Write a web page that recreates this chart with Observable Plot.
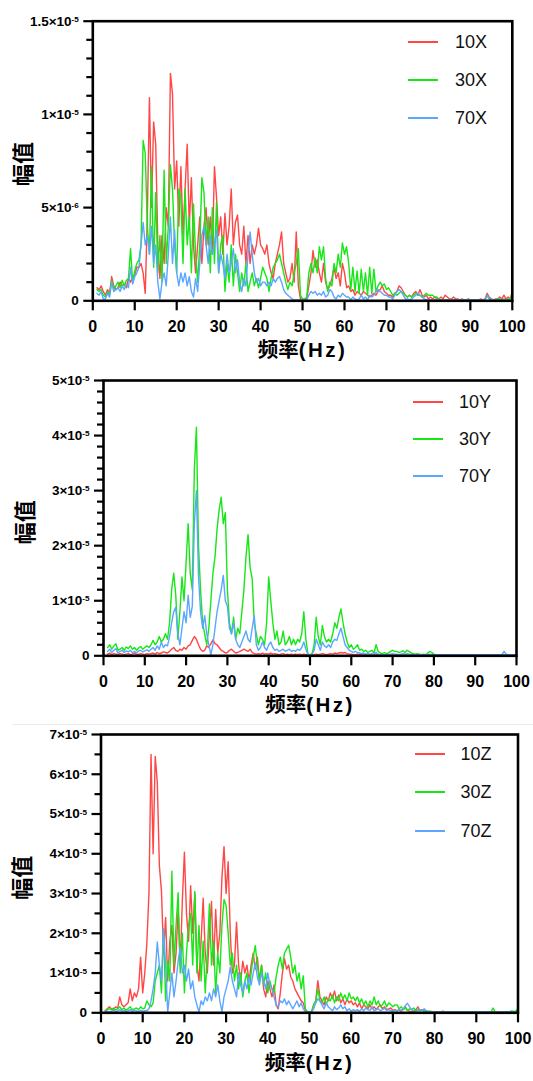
<!DOCTYPE html>
<html><head><meta charset="utf-8">
<script src="https://cdn.jsdelivr.net/npm/d3@7"></script>
<script src="https://cdn.jsdelivr.net/npm/@observablehq/plot@0.6"></script>
<style>
body{margin:0;background:#fff;}
#wrap{position:relative;width:533px;height:1081px;overflow:hidden;background:#fff;font-family:"Liberation Sans",Arial,sans-serif;}
.panel{position:absolute;left:0;}
.lg-line{position:absolute;height:2px;width:30px;}
.lg-text{position:absolute;font-size:18px;line-height:22px;color:#111;white-space:nowrap;}
.sep{position:absolute;left:12px;right:0;top:724px;height:1px;background:#ebebeb;}
</style></head>
<body><div id="wrap"></div>
<script>
// ---------- DATA (amplitudes in units of 1e-6, sampled every 0.5 Hz from 1 Hz to 100 Hz) ----------
const freqStart = 1, freqStep = 0.5, nPoints = 199;

const x10 = [
0.7,0.6,0.8,0.5,0.3,0.6,0.4,1.3,0.8,0.6,0.7,1.0,0.8,0.9,0.7,1.2,1.0,1.3,1.4,1.8,
1.8,2.0,1.5,0.4,4.5,10.9,5.0,9.6,8.4,3.0,1.2,3.5,2.0,5.0,4.0,12.2,11.1,6.0,7.5,4.0,
7.2,3.5,6.0,8.4,4.0,6.6,3.0,1.5,3.0,4.5,2.0,4.0,5.0,3.0,4.5,2.5,7.2,5.5,3.5,4.5,
2.5,4.7,3.0,4.0,6.0,3.0,4.2,4.6,3.0,2.5,4.0,2.0,3.5,2.0,3.0,2.5,3.0,3.9,3.0,2.8,
2.5,3.0,2.0,1.5,1.2,2.0,2.5,3.0,3.7,2.0,1.5,1.0,1.2,2.0,1.0,3.7,0.8,0.1,0.05,0.1,
0.1,0.8,1.5,2.7,1.8,2.2,1.5,1.0,2.0,1.0,0.6,0.8,1.2,1.8,1.2,1.5,0.8,2.0,1.5,0.7,
0.8,0.5,0.6,0.3,0.5,0.4,0.3,0.5,0.4,0.3,0.2,0.3,0.4,0.3,0.5,0.6,0.8,0.5,0.4,0.3,
0.3,0.2,0.4,0.5,0.8,0.7,0.5,0.3,0.2,0.3,0.2,0.4,0.5,0.3,0.6,0.3,0.2,0.3,0.1,0.2,
0.1,0.2,0.1,0.1,0.2,0.1,0.3,0.2,0.1,0.1,0.2,0.1,0.1,0.05,0.1,0.05,0.05,0.1,0.05,0.05,
0.05,0.05,0.05,0.1,0.05,0.1,0.4,0.2,0.1,0.05,0.1,0.1,0.2,0.1,0.3,0.1,0.2,0.1,0.5];
const x30 = [
0.6,0.5,0.6,0.3,0.2,0.5,0.3,1.1,0.6,0.8,1.0,0.7,1.1,0.8,1.1,1.2,2.8,1.0,1.6,2.0,
2.2,3.0,8.6,7.9,4.0,2.5,7.2,1.8,5.8,1.5,3.5,1.0,7.0,2.0,4.0,7.3,6.0,3.0,1.5,6.0,
5.5,2.0,6.0,3.0,4.5,1.5,5.2,2.5,1.0,3.0,6.6,5.8,3.0,4.5,1.5,5.0,2.0,5.3,1.5,3.0,
3.5,0.5,2.0,1.0,3.0,0.8,2.5,1.5,0.5,1.5,0.8,2.0,0.5,1.0,1.5,0.8,1.2,0.7,1.2,1.8,
1.5,1.2,0.5,1.2,1.8,2.0,2.2,2.5,2.0,1.5,1.0,0.6,1.0,0.8,1.5,2.0,2.8,0.3,0.1,0.1,
0.2,1.5,2.0,1.5,2.3,1.5,2.9,2.2,2.9,1.2,0.5,1.0,0.8,2.0,1.5,2.5,1.8,3.1,2.5,2.9,
2.0,0.6,1.8,0.5,1.6,0.4,1.7,0.5,1.5,0.3,1.8,0.4,1.7,0.5,0.8,1.0,0.8,0.9,0.6,0.7,
0.5,0.3,0.4,0.3,0.4,0.5,0.4,0.3,0.2,0.3,0.2,0.3,0.4,0.3,0.3,0.2,0.3,0.4,0.3,0.3,
0.3,0.2,0.2,0.1,0.05,0.05,0.05,0.05,0.05,0.05,0.05,0.05,0.05,0.05,0.05,0.05,0.05,0.05,0.05,0.05,
0.05,0.05,0.05,0.05,0.05,0.05,0.3,0.1,0.05,0.05,0.05,0.1,0.1,0.05,0.1,0.05,0.1,0.1,0.3];
const x70 = [
0.4,0.3,0.5,0.1,0.1,0.4,0.2,1.0,0.5,0.6,0.7,0.5,0.8,0.6,0.9,0.7,1.8,0.9,1.3,1.5,
1.8,3.0,4.2,3.0,3.5,2.5,4.0,2.0,3.0,1.0,0.1,1.0,1.5,0.8,2.5,4.5,2.0,3.8,1.5,0.8,
1.5,1.0,1.5,0.8,1.3,0.5,0.2,1.2,0.5,2.0,3.5,4.0,3.0,2.0,3.5,2.5,3.0,3.8,1.5,2.5,
2.0,1.2,2.5,1.5,2.0,2.8,1.5,2.2,1.0,0.5,1.2,0.8,2.5,3.7,2.5,1.5,1.0,1.2,0.8,1.0,
1.0,0.8,1.0,0.8,1.2,1.0,1.2,1.3,1.0,0.6,0.4,0.3,0.2,0.1,0.05,0.05,0.05,0.05,0.05,0.05,
0.05,0.3,0.5,0.4,0.5,0.3,0.4,0.3,0.5,0.2,0.3,0.6,0.5,0.2,0.1,0.3,0.2,0.4,0.3,0.2,
0.2,0.05,0.2,0.1,0.05,0.1,0.3,0.1,0.2,0.05,0.3,0.2,0.3,0.5,0.6,0.5,0.4,0.3,0.3,0.2,
0.2,0.1,0.3,0.5,0.6,0.5,0.3,0.1,0.1,0.05,0.1,0.2,0.3,0.4,0.3,0.2,0.1,0.05,0.05,0.05,
0.05,0.05,0.05,0.05,0.05,0.05,0.05,0.05,0.05,0.05,0.05,0.05,0.05,0.05,0.05,0.05,0.05,0.05,0.05,0.05,
0.05,0.05,0.05,0.05,0.05,0.05,0.3,0.1,0.05,0.05,0.05,0.05,0.05,0.05,0.05,0.05,0.05,0.05,0.05];

const y10 = [
0.3,0.5,0.2,0.4,0.3,0.2,0.4,0.3,0.2,0.3,0.4,0.2,0.3,0.5,0.2,0.3,0.4,0.3,0.2,0.4,
0.3,0.4,0.5,0.3,0.6,0.4,0.5,0.7,0.6,0.5,0.8,1.2,1.5,1.0,0.8,1.2,1.0,1.5,1.2,1.8,
2.0,2.8,3.5,3.0,2.0,1.2,0.8,1.0,1.8,1.5,2.2,2.9,2.2,2.0,1.5,1.0,0.8,0.5,0.6,1.0,
1.2,0.8,0.5,0.6,0.8,1.0,1.2,1.0,0.8,1.2,0.6,0.4,0.3,0.4,0.3,0.5,0.3,0.4,0.3,0.5,
0.3,0.4,0.3,0.2,0.3,0.4,0.2,0.3,0.2,0.3,0.2,0.3,0.2,0.3,0.2,0.3,0.2,0.1,0.1,0.1,
0.2,0.3,0.2,0.3,0.4,0.3,0.2,0.3,0.4,0.3,0.5,0.4,0.5,0.6,0.5,0.6,0.4,0.3,0.3,0.2,
0.2,0.3,0.2,0.2,0.1,0.2,0.1,0.2,0.1,0.1,0.2,0.1,0.1,0.2,0.1,0.1,0.1,0.1,0.1,0.1,
0.1,0.1,0.1,0.1,0.1,0.1,0.1,0.1,0.1,0.1,0.1,0.1,0.1,0.1,0.1,0.1,0.1,0.1,0.1,0.1,
0.1,0.1,0.1,0.1,0.1,0.1,0.1,0.1,0.1,0.1,0.1,0.1,0.1,0.1,0.1,0.1,0.1,0.1,0.1,0.1,
0.1,0.1,0.1,0.1,0.1,0.1,0.1,0.1,0.1,0.1,0.1,0.1,0.1,0.1,0.1,0.1,0.1,0.1,0.1];
const y30 = [
1.5,2.0,1.2,1.8,2.2,1.0,1.2,1.5,1.0,1.6,1.3,1.8,1.2,1.5,1.0,1.4,1.7,1.2,1.5,1.8,
1.5,2.0,2.8,2.0,2.5,3.5,2.5,3.0,4.0,3.0,6.0,12.0,15.0,11.0,3.0,8.0,14.3,10.0,17.0,24.0,
15.0,12.0,34.0,41.5,20.0,12.0,6.0,4.0,2.0,5.0,10.0,15.0,18.0,23.0,26.5,28.8,24.0,26.0,12.0,6.0,
4.0,7.0,3.0,5.0,4.0,8.0,12.0,18.0,22.0,16.0,14.0,6.0,4.0,2.0,3.5,3.0,2.0,6.0,14.3,10.0,
6.0,3.0,4.5,2.0,2.5,4.5,2.0,2.5,3.5,2.0,3.0,2.0,3.0,2.5,4.0,8.0,3.0,0.3,0.2,0.4,
2.0,7.0,3.5,2.0,5.5,3.5,2.5,3.0,2.5,4.0,6.0,5.0,7.0,8.5,6.0,4.0,2.5,1.5,2.0,1.2,
1.5,2.0,1.0,1.2,0.8,1.0,0.6,0.8,1.0,0.5,2.0,0.8,0.5,0.4,0.6,0.4,0.5,0.8,1.0,0.8,
0.8,0.6,0.7,0.9,0.6,1.0,0.8,0.5,0.4,0.3,0.4,0.3,0.2,0.3,0.2,0.5,0.8,0.6,0.3,0.2,
0.2,0.1,0.1,0.1,0.1,0.1,0.1,0.1,0.1,0.1,0.1,0.1,0.1,0.1,0.1,0.1,0.1,0.1,0.1,0.1,
0.1,0.1,0.1,0.1,0.1,0.1,0.1,0.1,0.1,0.1,0.1,0.1,0.1,0.1,0.1,0.1,0.1,0.1,0.1];
const y70 = [
0.8,1.2,0.6,1.0,1.3,0.5,0.8,1.0,0.6,0.9,0.7,1.0,0.6,0.8,0.5,0.9,1.0,0.7,0.9,1.1,
0.8,1.2,1.5,1.0,1.8,1.2,2.5,1.5,2.0,1.8,3.5,6.0,8.0,8.8,4.0,2.0,5.0,8.0,6.0,11.0,
7.0,9.0,24.0,30.0,14.5,8.0,5.0,7.3,4.0,2.0,0.2,2.0,5.0,8.0,10.0,12.0,14.6,10.0,9.0,5.0,
4.0,6.0,3.0,2.0,1.5,2.5,3.5,4.5,3.0,2.5,5.0,7.3,2.0,1.0,1.5,2.5,1.5,1.0,2.0,2.5,
1.5,1.0,1.2,0.8,1.0,1.2,0.8,1.0,1.2,0.8,1.0,0.8,1.2,1.0,1.5,2.5,1.2,0.2,0.1,0.3,
1.0,3.0,2.0,1.0,2.5,1.8,1.5,2.0,1.5,2.5,3.0,2.8,4.0,5.0,3.5,2.0,1.5,1.0,0.8,0.6,
0.8,0.6,0.5,0.4,0.5,0.3,0.4,0.3,0.4,0.3,0.6,0.3,0.2,0.2,0.3,0.2,0.2,0.3,0.4,0.3,
0.3,0.2,0.3,0.4,0.3,0.4,0.3,0.2,0.2,0.2,0.2,0.2,0.2,0.2,0.2,0.2,0.3,0.2,0.2,0.2,
0.2,0.2,0.2,0.2,0.2,0.2,0.2,0.2,0.2,0.2,0.2,0.2,0.2,0.2,0.2,0.2,0.2,0.2,0.2,0.2,
0.2,0.2,0.2,0.2,0.2,0.2,0.2,0.2,0.2,0.2,0.2,0.2,0.8,0.3,0.2,0.2,0.2,0.2,0.2];

const z10 = [
0.5,1.0,1.5,1.0,0.8,1.5,1.2,4.0,2.0,1.5,2.0,2.5,6.0,3.0,5.0,4.0,6.0,14.0,5.0,10.0,
17.6,30.0,65.0,40.0,64.5,58.0,37.0,30.6,15.0,24.0,8.0,18.0,22.0,10.0,15.0,26.0,12.0,28.0,40.4,25.0,
18.0,32.0,20.0,30.0,12.0,8.0,18.0,28.8,15.0,10.0,20.0,28.0,12.0,26.0,15.0,20.0,34.0,41.8,30.0,38.0,
20.0,10.0,12.0,22.8,12.0,8.0,13.0,10.0,12.0,8.0,12.0,15.0,11.0,14.0,8.0,12.0,6.0,4.0,8.0,6.0,
4.0,7.0,2.0,1.0,5.0,10.0,13.6,11.0,12.0,9.0,8.0,6.0,5.0,4.0,3.0,2.5,0.5,0.2,0.2,0.3,
2.0,3.0,8.1,4.0,3.0,2.0,4.0,3.0,5.0,3.5,5.5,3.0,4.5,2.5,3.5,2.0,3.5,2.5,3.0,2.0,
2.5,1.5,2.5,1.0,2.0,1.5,1.0,2.0,1.0,1.5,0.8,1.5,2.0,1.0,1.5,0.8,1.0,1.2,0.6,0.8,
0.5,0.8,0.4,1.0,1.5,0.6,0.4,0.3,0.5,0.8,1.5,0.5,0.8,0.4,0.3,0.4,0.3,0.2,0.3,0.2,
0.3,0.2,0.4,0.2,0.3,0.2,0.2,0.3,0.2,0.2,0.2,0.3,0.2,0.2,0.2,0.2,0.2,0.2,0.2,0.2,
0.2,0.2,0.2,0.2,0.2,0.2,0.3,0.2,0.2,0.2,0.2,0.2,0.2,0.2,0.2,0.3,0.2,0.3,0.4];
const z30 = [
0.5,0.8,1.0,0.8,1.2,0.7,1.0,1.5,0.8,1.2,0.6,1.0,1.5,0.8,1.0,1.2,0.8,1.5,1.0,1.2,
3.0,2.0,1.5,2.5,8.0,10.0,12.0,5.0,21.0,3.0,13.0,8.0,35.6,12.0,22.0,30.2,10.0,20.0,5.0,15.0,
22.0,25.0,12.0,30.5,10.0,22.0,8.0,18.0,5.0,15.0,27.4,12.0,18.0,5.0,15.0,10.0,22.0,28.5,27.0,20.0,
12.0,15.0,8.0,12.0,6.0,10.0,4.0,8.0,10.0,5.0,10.0,14.0,16.9,12.0,8.0,12.0,7.0,10.0,5.0,8.0,
6.0,5.0,9.0,12.0,14.0,11.0,15.0,16.0,17.0,14.0,10.0,12.0,8.0,10.0,6.0,9.3,1.0,0.3,0.2,0.3,
2.0,3.0,6.0,3.0,2.5,4.0,2.0,3.5,3.0,4.5,2.5,4.0,3.0,5.0,3.5,4.5,3.0,5.0,3.5,4.0,
3.0,4.0,2.5,3.5,2.0,3.0,1.5,3.0,2.0,4.0,2.0,3.0,1.5,2.0,3.0,1.5,2.5,2.0,1.5,2.0,
2.0,1.0,1.5,0.8,1.2,0.6,1.0,0.8,1.2,0.5,0.8,0.5,0.6,0.4,0.5,0.3,0.4,0.3,0.2,0.3,
0.3,0.2,0.3,0.2,0.2,0.3,0.2,0.2,0.3,0.2,0.2,0.2,0.3,0.2,0.2,0.2,0.2,0.3,0.2,0.2,
0.2,0.3,0.2,0.2,0.3,0.2,1.2,0.3,0.2,0.3,0.2,0.2,0.3,0.2,0.3,0.5,0.3,0.5,1.0];
const z70 = [
0.3,0.5,0.2,0.4,0.6,0.3,0.5,0.8,0.4,0.6,0.3,0.5,0.8,0.4,0.6,0.5,0.3,0.6,0.4,0.5,
0.5,1.0,3.0,6.0,10.0,17.8,12.0,8.0,21.1,12.0,0.2,5.0,10.0,4.0,8.0,13.0,16.5,10.0,12.0,8.0,
11.0,6.0,8.0,4.0,2.0,0.2,3.0,2.0,4.0,3.0,5.0,3.0,6.0,4.0,7.0,3.0,0.3,4.0,6.0,8.0,
11.5,8.0,6.0,4.0,10.0,7.0,5.0,8.0,6.0,9.0,7.0,10.0,12.5,9.0,7.0,10.0,8.0,6.0,10.0,7.0,
6.0,4.0,2.0,1.5,3.0,2.5,3.5,2.0,3.0,2.0,1.0,2.0,3.0,1.5,2.5,1.0,0.3,0.2,0.2,0.2,
1.0,2.5,3.5,3.0,2.0,1.0,2.5,1.5,1.0,0.5,1.5,0.8,1.2,2.0,1.0,1.5,0.5,1.0,0.4,0.8,
0.5,0.8,0.3,1.0,0.5,1.2,0.8,0.6,1.5,0.5,0.8,1.0,0.5,0.8,1.2,0.6,0.8,0.5,0.4,0.6,
0.5,0.8,0.6,1.0,1.8,2.4,1.5,0.8,0.5,0.3,0.5,0.8,0.6,1.0,0.5,0.3,0.2,0.2,0.2,0.2,
0.2,0.2,0.2,0.2,0.2,0.2,0.2,0.2,0.2,0.2,0.2,0.2,0.2,0.2,0.2,0.2,0.2,0.2,0.2,0.2,
0.2,0.2,0.2,0.2,0.2,0.2,0.2,0.2,0.2,0.2,0.2,0.2,0.2,0.2,0.2,0.2,0.2,0.2,0.2];

const namesX = ["10X", "30X", "70X"];
const namesY = ["10Y", "30Y", "70Y"];
const namesZ = ["10Z", "30Z", "70Z"];
const xTicks = [0, 10, 20, 30, 40, 50, 60, 70, 80, 90, 100];
const yTicksX = [0, 5, 10, 15];
const yLabelsX = ["0", "5×10^-6", "1×10^-5", "1.5×10^-5"];
const yMinorX = [1, 2, 3, 4, 6, 7, 8, 9, 11, 12, 13, 14];
const yTicksY = [0, 10, 20, 30, 40, 50];
const yLabelsY = ["0", "1×10^-5", "2×10^-5", "3×10^-5", "4×10^-5", "5×10^-5"];
const yMinorY = [2, 4, 6, 8, 12, 14, 16, 18, 22, 24, 26, 28, 32, 34, 36, 38, 42, 44, 46, 48];
const yTicksZ = [0, 10, 20, 30, 40, 50, 60, 70];
const yLabelsZ = ["0", "1×10^-5", "2×10^-5", "3×10^-5", "4×10^-5", "5×10^-5", "6×10^-5", "7×10^-5"];
const yMinorZ = [5, 15, 25, 35, 45, 55, 65];
const xTitle = ["频率(Hz)"];
const yTitle = ["幅值"];

// ---------- STYLE / LAYOUT ----------
const colors = ["#ff4747", "#17e617", "#5ca6ff"];
const FONT = '"Liberation Sans", Arial, "Noto Sans CJK SC", sans-serif';
const panels = [
  {names: namesX, values: [x10, x30, x70], yMax: 15, yTicks: yTicksX, yLabels: yLabelsX, yMinor: yMinorX,
   top: 0, height: 362, m: {top: 20.7, right: 21.2, bottom: 61.7, left: 92.3},
   xTitleDy: 56.5, yTitleDx: -68.5, yTitleDy: 3,
   legend: {lineX: 407.5, textX: 455, ys: [42.3, 80, 117.7]}},
  {names: namesY, values: [y10, y30, y70], yMax: 50, yTicks: yTicksY, yLabels: yLabelsY, yMinor: yMinorY,
   top: 362, height: 360, m: {top: 18, right: 17, bottom: 66.7, left: 103},
   xTitleDy: 55.7, yTitleDx: -77.5, yTitleDy: 4,
   legend: {lineX: 413, textX: 459, ys: [402, 439, 476]}},
  {names: namesZ, values: [z10, z30, z70], yMax: 70, yTicks: yTicksZ, yLabels: yLabelsZ, yMinor: yMinorZ,
   top: 724, height: 357, m: {top: 10, right: 15.5, bottom: 68.7, left: 100.5},
   xTitleDy: 56.7, yTitleDx: -78, yTitleDy: 4,
   legend: {lineX: 414.5, textX: 460.5, ys: [754.3, 792.3, 830.7]}}
];

const freq = d3.range(nPoints).map(i => freqStart + i * freqStep);
const wrap = document.getElementById("wrap");
const NS = "http://www.w3.org/2000/svg";

for (const p of panels) {
  p.values.forEach((arr, k) => { if (arr.length !== nPoints) throw new Error(p.names[k] + " has " + arr.length); });
  const lines = p.values.map((arr, k) =>
    Plot.line(arr.map((v, i) => ({f: freq[i], v})), {x: "f", y: "v", stroke: colors[k], strokeWidth: 1.4}));
  const labelMap = new Map(p.yTicks.map((t, i) => [t, p.yLabels[i]]));
  const svg = Plot.plot({
    width: 533, height: p.height,
    marginTop: p.m.top, marginRight: p.m.right, marginBottom: p.m.bottom, marginLeft: p.m.left,
    style: {fontFamily: FONT, background: "transparent", overflow: "visible", color: "#000"},
    x: {domain: [0, 100], label: null},
    y: {domain: [0, p.yMax], label: null},
    marks: [
      ...lines,
      Plot.frame({stroke: "#000", strokeWidth: 2.6}),
      Plot.axisX(xTicks, {tickSize: 10, tickPadding: 10, strokeWidth: 2.2, fontSize: 16, fontWeight: "bold",
        tickFormat: d => String(d), label: null}),
      Plot.axisY(p.yTicks, {tickSize: 9, tickPadding: 5, strokeWidth: 2.2, fontSize: 13.5, fontWeight: "bold",
        tickFormat: d => labelMap.get(d), label: null}),
      Plot.axisY(p.yMinor, {tickSize: 6, strokeWidth: 2.2, tickFormat: () => "", label: null}),
      Plot.text(xTitle, {frameAnchor: "bottom", dy: p.xTitleDy, text: d => d, fontSize: 20.5, fontWeight: "bold",
        fill: "#000", fontFamily: FONT}),
      Plot.text(yTitle, {frameAnchor: "left", dx: p.yTitleDx, dy: p.yTitleDy, rotate: -90, textAnchor: "middle",
        text: d => d, fontSize: 22, fontWeight: "bold", fill: "#000", fontFamily: FONT})
    ]
  });
  // superscript exponents in tick labels, spacing in axis title
  svg.querySelectorAll("text").forEach(t => {
    const s = t.textContent;
    const k = s.indexOf("^");
    if (k >= 0) {
      t.textContent = s.slice(0, k);
      const ts = document.createElementNS(NS, "tspan");
      ts.setAttribute("dy", "-0.45em");
      ts.setAttribute("font-size", "0.6em");
      ts.textContent = s.slice(k + 1);
      t.appendChild(ts);
    } else if (s === xTitle[0]) {
      const j = s.indexOf("(");
      t.textContent = s.slice(0, j);
      const ts = document.createElementNS(NS, "tspan");
      ts.setAttribute("letter-spacing", "2.5px");
      ts.textContent = s.slice(j);
      t.appendChild(ts);
    }
  });
  const div = document.createElement("div");
  div.className = "panel";
  div.style.top = p.top + "px";
  div.appendChild(svg);
  wrap.appendChild(div);
  // legend
  p.names.forEach((name, k) => {
    const ln = document.createElement("div");
    ln.className = "lg-line";
    ln.style.left = p.legend.lineX + "px";
    ln.style.top = (p.legend.ys[k] - 1) + "px";
    ln.style.background = colors[k];
    wrap.appendChild(ln);
    const tx = document.createElement("div");
    tx.className = "lg-text";
    tx.style.left = p.legend.textX + "px";
    tx.style.top = (p.legend.ys[k] - 11) + "px";
    tx.textContent = name;
    wrap.appendChild(tx);
  });
}
const sep = document.createElement("div");
sep.className = "sep";
wrap.appendChild(sep);
</script>
</body></html>
